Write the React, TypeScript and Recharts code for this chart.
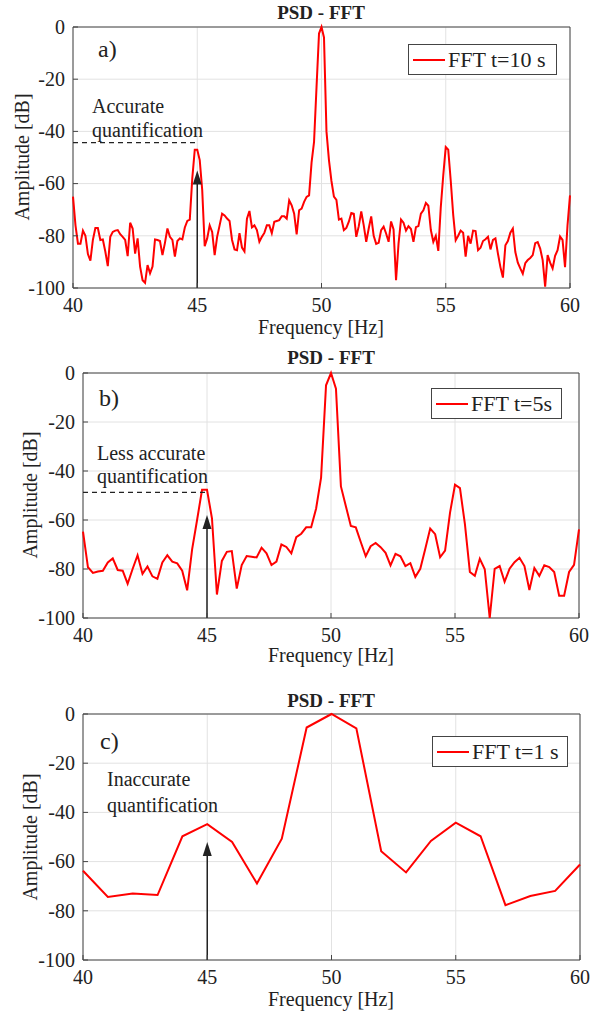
import React from 'react'
import {
  LineChart,
  Line,
  XAxis,
  YAxis,
  CartesianGrid,
  ReferenceLine,
  ReferenceDot,
  ReferenceArea,
  Legend,
} from 'recharts'

// frequency grid bounds and tick labels
const FREQ_START = 40
const FREQ_TICKS = [40, 45, 50, 55, 60]
const DB_TICKS = [-100, -80, -60, -40, -20, 0]

// a) FFT over 10 s, 0.1 Hz resolution (dB)
const fft10s = [
  -65, -76, -83, -83, -78, -80, -87, -89.5, -81.6, -77,
  -77, -81.6, -81.4, -86, -91.6, -80.4, -78.5, -78, -77.8, -79.4,
  -80.4, -81.6, -87.8, -75, -77.2, -86.8, -81, -91.8, -97, -98,
  -91.2, -94.4, -91.8, -81.4, -81.6, -82, -87.4, -82.7, -77.2, -80.4,
  -81.6, -88, -82, -81, -81.4, -76.8, -74.3, -73.8, -58, -47,
  -47, -51, -62.5, -84, -81, -76, -78.5, -87.4, -80.4, -76,
  -71.5, -72.2, -73.4, -74.3, -81.6, -85.2, -85.5, -79, -84.5, -86,
  -73.4, -70.5, -76.8, -76, -77.8, -82.3, -80.4, -78.9, -76, -76,
  -79, -74.6, -74.3, -74, -72.5, -72.5, -73.4, -66.4, -68.3, -71.5,
  -79.5, -70.2, -69.6, -67, -65.1, -64.5, -52, -44, -23, -2.5,
  0, -4, -40, -51, -59, -65, -66.2, -73.8, -73.4, -77.8,
  -77, -74.6, -71.3, -71.6, -80.4, -76.3, -70.7, -76, -82.3, -77.2,
  -72.6, -80, -83.1, -82.7, -77.8, -76.5, -79.1, -82.3, -74.5, -77.6,
  -97, -83, -73.8, -75, -78, -76.3, -77.4, -82.3, -76.7, -76.3,
  -71.5, -70.2, -67.4, -68.5, -77.8, -82.3, -80, -85.8, -69, -56.8,
  -46, -47, -58.8, -72, -81.7, -80, -78, -78.8, -88, -80,
  -83, -78, -78.2, -85.5, -84.6, -82, -81.3, -80.4, -85.2, -81.6,
  -81, -86.8, -92, -96, -83.6, -82, -78.8, -77.2, -86.2, -90.3,
  -92.5, -94.5, -90.5, -89.3, -88.5, -87.4, -82.8, -82.4, -84.9, -89.3,
  -99.5, -87.4, -90.3, -92.5, -87.7, -85.5, -80.3, -81.6, -92, -76,
  -64.5,
]

// b) FFT over 5 s, 0.2 Hz resolution (dB)
const fft5s = [
  -64.7, -79.3, -81.6, -81, -80.7, -77.3, -75.7, -80.4, -80.7, -86,
  -80, -74.4, -82, -79, -83, -84, -77.3, -74.4, -77, -77.7,
  -80.7, -88.7, -72, -60, -47.7, -47.7, -59.3, -90.4, -76.7, -73,
  -72.7, -88, -78.4, -74.7, -75, -75.3, -71.3, -73.6, -78.4, -77,
  -70, -71, -73.6, -67, -65.6, -63, -63, -55.3, -42.7, -5,
  0, -6.4, -46.3, -54.4, -62.4, -63, -69, -74.8, -70.7, -69.4,
  -71.1, -73.4, -78.5, -73.8, -74.8, -78.8, -77.6, -83.2, -79.9, -71.8,
  -63.5, -65.8, -75.2, -72.5, -57, -45.6, -47, -61.7, -81.2, -82.8,
  -75.8, -80.1, -100, -79.9, -78.8, -85.2, -79.9, -77.2, -75.4, -78.8,
  -88.6, -79.6, -82.8, -78.5, -79.2, -81.2, -90.9, -90.9, -81.2, -78.3,
  -63.8,
]

// c) FFT over 1 s, 1 Hz resolution (dB)
const fft1s = [
  -63.7, -74.4, -73, -73.6, -49.7, -44.8, -52, -68.9, -50.7, -5.5,
  0, -5.8, -55.8, -64.4, -51.6, -44.2, -49.7, -77.7, -74, -71.9,
  -61.2,
]

const toRows = (values: number[], step: number) =>
  values.map((db, i) => ({ f: +(FREQ_START + i * step).toFixed(2), db }))

const FONT = 'Liberation Serif'
const INK = '#222'

const XTick = (props: any) => (
  <text x={props.x} y={props.y} textAnchor="middle" dy="0.75em" fontSize={20} fontFamily={FONT} fill={INK}>
    {props.payload.value}
  </text>
)
const YTick = (props: any) => (
  <text x={props.x} y={props.y} textAnchor="end" dy="0.34em" fontSize={20} fontFamily={FONT} fill={INK}>
    {props.payload.value}
  </text>
)

type PanelProps = {
  top: number
  height: number
  margin: { top: number; right: number; bottom: number; left: number }
  rows: { f: number; db: number }[]
  name: string
  legendPos: { left: number; top: number; width: number }
  dashY?: number
  arrowTip: number
}

const ArrowHead = (props: any) => {
  const { cx, cy } = props
  return <polygon points={`${cx},${cy} ${cx - 4.5},${cy + 14} ${cx + 4.5},${cy + 14}`} fill={INK} />
}

function Panel({ top, height, margin, rows, name, legendPos, dashY, arrowTip }: PanelProps) {
  const renderLegend = () => (
    <div
      style={{
        display: 'flex',
        alignItems: 'center',
        border: '1px solid #444',
        background: '#fff',
        height: 31,
        width: legendPos.width,
        boxSizing: 'border-box',
        padding: '0 4px',
        fontFamily: FONT,
        fontSize: 22,
        color: INK,
      }}
    >
      <span style={{ display: 'inline-block', width: 32, height: 2, background: '#ff0000', marginRight: 3 }} />
      <span>{name}</span>
    </div>
  )
  return (
    <div style={{ position: 'absolute', left: 0, top }}>
      <LineChart width={606} height={height} data={rows} margin={margin}>
        <CartesianGrid stroke="#e2e2e2" strokeWidth={1} />
        <XAxis
          dataKey="f"
          type="number"
          domain={[40, 60]}
          ticks={FREQ_TICKS}
          height={30}
          axisLine={false}
          tickLine={{ stroke: '#444' }}
          tickSize={-5}
          tickMargin={14}
          tick={<XTick />}
          interval={0}
        />
        <YAxis
          type="number"
          domain={[-100, 0]}
          ticks={DB_TICKS}
          width={60}
          axisLine={false}
          tickLine={{ stroke: '#444' }}
          tickSize={-5}
          tickMargin={13}
          tick={<YTick />}
          interval={0}
        />
        <ReferenceArea x1={40} x2={60} y1={-100} y2={0} fill="none" stroke="#444" strokeWidth={1} />
        <Line
          type="linear"
          dataKey="db"
          name={name}
          stroke="#ff0000"
          strokeWidth={2}
          dot={false}
          isAnimationActive={false}
        />
        {dashY !== undefined && (
          <ReferenceLine
            segment={[{ x: 40, y: dashY }, { x: 44.95, y: dashY }]}
            stroke={INK}
            strokeWidth={1.3}
            strokeDasharray="5 4"
          />
        )}
        <ReferenceLine
          segment={[{ x: 45, y: -100 }, { x: 45, y: arrowTip - 4 }]}
          stroke={INK}
          strokeWidth={1.5}
        />
        <ReferenceDot x={45} y={arrowTip} r={0} shape={ArrowHead} />
        <Legend
          layout="horizontal"
          verticalAlign="middle"
          content={renderLegend}
          wrapperStyle={{ left: legendPos.left, top: legendPos.top, width: legendPos.width }}
        />
      </LineChart>
    </div>
  )
}

const txt = (extra: React.CSSProperties): React.CSSProperties => ({
  position: 'absolute',
  fontFamily: FONT,
  color: INK,
  lineHeight: 1,
  whiteSpace: 'nowrap',
  ...extra,
})

function Labels({ top, cx, cy, ylabelX, xlabelY, titleY }: { top: number; cx: number; cy: number; ylabelX: number; xlabelY: number; titleY: number }) {
  return (
    <>
      <div style={txt({ left: cx, top: top + titleY, fontSize: 19, fontWeight: 'bold', transform: 'translate(-50%, -50%)' })}>
        PSD - FFT
      </div>
      <div style={txt({ left: cx, top: top + xlabelY, fontSize: 20, transform: 'translate(-50%, -50%)' })}>
        Frequency [Hz]
      </div>
      <div
        style={txt({
          left: ylabelX,
          top: top + cy,
          fontSize: 20,
          transform: 'translate(-50%, -50%) rotate(-90deg)',
        })}
      >
        Amplitude [dB]
      </div>
    </>
  )
}

export default function App() {
  return (
    <div style={{ position: 'absolute', left: 0, top: 0, width: 606, height: 1012, background: '#fff', overflow: 'hidden', fontFamily: FONT }}>
      <Panel
        top={0}
        height={340}
        margin={{ top: 27, right: 36, bottom: 22, left: 13 }}
        rows={toRows(fft10s, 0.1)}
        name="FFT t=10 s"
        legendPos={{ left: 408, top: 44, width: 149 }}
        dashY={-44.3}
        arrowTip={-55}
      />
      <Labels top={0} cx={321} cy={157} ylabelX={22} xlabelY={327} titleY={12} />
      <div style={txt({ left: 98, top: 37, fontSize: 24 })}>a)</div>
      <div style={txt({ left: 92, top: 96, fontSize: 20 })}>Accurate</div>
      <div style={txt({ left: 92, top: 120, fontSize: 20 })}>quantification</div>

      <Panel
        top={345}
        height={340}
        margin={{ top: 28, right: 27, bottom: 37, left: 23 }}
        rows={toRows(fft5s, 0.2)}
        name="FFT t=5s"
        legendPos={{ left: 431, top: 43, width: 131 }}
        dashY={-48.7}
        arrowTip={-58}
      />
      <Labels top={345} cx={331} cy={150} ylabelX={30} xlabelY={310} titleY={12} />
      <div style={txt({ left: 99, top: 386, fontSize: 24 })}>b)</div>
      <div style={txt({ left: 97, top: 443, fontSize: 20 })}>Less accurate</div>
      <div style={txt({ left: 97, top: 466, fontSize: 20 })}>quantification</div>

      <Panel
        top={688}
        height={324}
        margin={{ top: 26, right: 26, bottom: 22, left: 23 }}
        rows={toRows(fft1s, 1)}
        name="FFT t=1 s"
        legendPos={{ left: 432, top: 48, width: 136 }}
        arrowTip={-52}
      />
      <Labels top={688} cx={331} cy={149} ylabelX={30} xlabelY={311} titleY={12} />
      <div style={txt({ left: 100, top: 729, fontSize: 24 })}>c)</div>
      <div style={txt({ left: 107, top: 769, fontSize: 20 })}>Inaccurate</div>
      <div style={txt({ left: 107, top: 795, fontSize: 20 })}>quantification</div>
    </div>
  )
}
